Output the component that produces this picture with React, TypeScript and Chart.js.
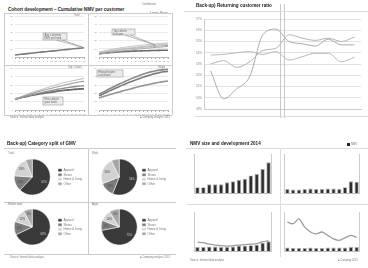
import React, { useEffect, useRef } from "react";
import { Chart, registerables } from "chart.js";

Chart.register(...registerables);

const FONT = "'Liberation Sans', 'DejaVu Sans', Arial, sans-serif";
Chart.defaults.font.family = FONT;
Chart.defaults.color = "#888";

// ---------- Returning customer ratio ----------
const ratioMonths = ["Jan 15", "Feb 15", "Mar 15", "Apr 15", "May 15", "Jun 15", "Jul 15", "Aug 15", "Sep 15", "Oct 15", "Nov 15", "Dec 15"];
const ratioSeriesA = [52.4, 49.9, 50.8, 51.9, 55.6, 56.1, 55.0, 54.8, 54.6, 55.2, 54.7, 54.7];
const ratioSeriesB = [53.0, 53.3, 52.7, 53.2, 54.2, 54.4, 55.6, 55.3, 55.1, 55.3, 55.0, 55.4];
const ratioSeriesC = [53.8, 53.85, 54.0, 54.1, 53.85, 54.1, 53.35, 53.65, 53.95, 53.95, 53.2, 53.6];
const ratioMin = 49;
const ratioMax = 57;

// ---------- Cohort development ----------
const cohortMonths = ["1", "2", "3", "4", "5", "6", "7", "8", "9", "10", "11", "12", "13", "14", "15", "16", "17", "18"];
const cohortTotal = [2.5, 3.1, 3.6, 4.2, 4.7, 5.2, 5.8, 6.3, 6.8, 7.3, 7.8, 8.3, 8.9, 9.4, 9.9, 10.4, 10.9, 11.5];
const cohortWebLow = [4.0, 4.6, 5.1, 5.5, 5.9, 6.3, 6.6, 6.9, 7.1, 7.3, 7.5, 7.7, 7.8, 8.0, 8.1, 8.2, 8.3, 8.4];
const cohortWebA = [5.0, 6.0, 7.0, 7.9, 8.7, 9.4, 10.1, 10.8, 11.4, 12.0, 12.6, 13.1, 13.6, 14.1, 14.6, 15.0, 15.4, 15.8];
const cohortWebB = [4.5, 5.4, 6.3, 7.1, 7.8, 8.5, 9.2, 9.8, 10.4, 11.0, 11.5, 12.0, 12.5, 12.9, 13.3, 13.7, 14.0, 14.3];
const cohortWebC = [6.0, 7.2, 8.3, 9.3, 10.2, 11.0, 11.8, 12.5, 13.1, 13.7, 14.3, 14.8, 15.3, 15.8, 16.2, 16.6, 17.0, 17.3];
const cohortWebD = [3.5, 4.2, 4.9, 5.6, 6.3, 7.0, 7.6, 8.2, 8.8, 9.4, 9.9, 10.4, 10.9, 11.4, 11.8, 12.2, 12.6, 13.0];
const cohortTopA = [13.0, 15.0, 17.0, 19.0, 21.0, 22.5, 24.0, 25.5, 27.0, 28.5, 30.0, 31.5, 33.0, 34.0, 35.0, 36.0, 37.0, 38.0];
const cohortTopB = [13.5, 15.0, 16.5, 18.0, 19.5, 21.0, 22.5, 23.8, 25.0, 26.2, 27.4, 28.6, 29.8, 31.0, 32.0, 33.0, 34.0, 34.5];
const cohortTopC = [12.5, 14.0, 15.5, 16.8, 18.0, 19.2, 20.4, 21.5, 22.5, 23.5, 24.5, 25.4, 26.2, 27.0, 27.7, 28.3, 28.8, 29.2];
const cohortTopD = [13.0, 14.2, 15.4, 16.5, 17.5, 18.4, 19.3, 20.1, 20.9, 21.6, 22.3, 23.0, 23.6, 24.1, 24.6, 25.0, 25.3, 25.6];
const cohortSingleA = [19.0, 21.5, 24.0, 26.5, 29.0, 31.3, 33.5, 35.7, 37.8, 39.8, 41.7, 43.5, 45.0, 46.2, 47.2, 48.0, 48.6, 49.0];
const cohortSingleB = [17.0, 19.3, 21.6, 23.9, 26.1, 28.3, 30.4, 32.4, 34.3, 36.2, 38.0, 39.7, 41.3, 42.8, 44.1, 45.2, 46.0, 46.5];
const cohortSingleC = [14.5, 16.0, 17.5, 19.0, 20.4, 21.8, 23.1, 24.4, 25.7, 27.0, 28.2, 29.4, 30.5, 31.6, 32.6, 33.5, 34.3, 35.0];

// ---------- Category split ----------
const pieCategories = ["Apparel", "Shoes", "Home & living", "Other"];
const pieTotal = [62, 14, 18, 6];
const pieWeb = [56, 13, 24, 7];
const pieMobile = [68, 12, 12, 8];
const pieApp = [72, 9, 10, 9];

// ---------- NMV size ----------
const nmvMonths = ["Dec", "Jan", "Feb", "Mar", "Apr", "May", "Jun", "Jul", "Aug", "Sep", "Oct", "Nov", "Dec"];
const nmvTotal = [12, 12, 18, 18, 18, 22, 24, 27, 29, 36, 39, 49, 63];
const nmvWeb = [8, 7, 7, 8, 9, 8, 8, 9, 9, 8, 12, 24, 23];
const nmvMobile = [8, 8, 9, 9, 8, 8, 9, 11, 11, 12, 13, 17, 20];
const nmvMobileTrend = [18, 17, 14, 12, 11, 10, 11, 12, 13, 14, 15, 19, 21];
const nmvApp = [7, 6, 6, 6, 7, 6, 6, 7, 7, 7, 7, 8, 8];
const nmvAppTrend = [59, 56, 66, 49, 39, 35, 39, 32, 25, 22, 27, 32, 28];

// ---------- plugins ----------
const calloutPlugin = {
  id: "callout",
  afterDatasetsDraw(chart: any, _a: any, opts: any) {
    if (!opts || !opts.box) return;
    const ctx = chart.ctx;
    const [x, y, w, h] = opts.box;
    ctx.save();
    if (opts.target) {
      const el = chart.getDatasetMeta(opts.target[0]).data[opts.target[1]];
      if (el) {
        ctx.strokeStyle = "#888";
        ctx.lineWidth = 0.6;
        ctx.beginPath();
        ctx.moveTo(x + w * 0.55, y + h);
        ctx.lineTo(el.x, el.y);
        ctx.lineTo(x + w * 0.8, y + h);
        ctx.stroke();
      }
    }
    ctx.fillStyle = "#ebebeb";
    ctx.fillRect(x, y, w, h);
    ctx.strokeStyle = "#999";
    ctx.lineWidth = 0.6;
    ctx.strokeRect(x, y, w, h);
    ctx.fillStyle = "#666";
    ctx.font = `2.6px ${FONT}`;
    ctx.textBaseline = "top";
    (opts.lines || []).forEach((t: string, i: number) => ctx.fillText(t, x + 1.5, y + 1 + i * 3));
    ctx.restore();
  },
};

const pieLabelPlugin = {
  id: "pieLabels",
  afterDatasetsDraw(chart: any) {
    const ctx = chart.ctx;
    const data = chart.data.datasets[0].data as number[];
    const total = data.reduce((a, b) => a + b, 0);
    ctx.save();
    ctx.font = `2.8px ${FONT}`;
    ctx.textAlign = "center";
    ctx.textBaseline = "middle";
    chart.getDatasetMeta(0).data.forEach((arc: any, i: number) => {
      const pct = Math.round((data[i] / total) * 100);
      if (pct < 8) return;
      const p = arc.getProps(["x", "y", "startAngle", "endAngle", "outerRadius"], true);
      const mid = (p.startAngle + p.endAngle) / 2;
      const r = p.outerRadius * 0.72;
      ctx.fillStyle = i === 0 ? "#ccc" : "#444";
      ctx.fillText(pct + "%", p.x + Math.cos(mid) * r, p.y + Math.sin(mid) * r);
    });
    ctx.restore();
  },
};

const splitPlugin = {
  id: "split",
  afterDraw(chart: any, _a: any, opts: any) {
    if (opts == null || opts.at == null) return;
    const ctx = chart.ctx;
    const px = chart.scales.x.getPixelForValue(opts.at);
    ctx.save();
    ctx.strokeStyle = "#bbb";
    ctx.lineWidth = 0.8;
    [-2, 2].forEach((d) => {
      ctx.beginPath();
      ctx.moveTo(px + d, 4);
      ctx.lineTo(px + d, chart.height - 4);
      ctx.stroke();
    });
    ctx.restore();
  },
};

// ---------- generic canvas ----------
function ChartBox({ left, top, width, height, make }: any) {
  const ref = useRef<HTMLCanvasElement>(null);
  useEffect(() => {
    const chart = new Chart(ref.current as HTMLCanvasElement, make());
    return () => chart.destroy();
  }, []);
  return (
    <div style={{ position: "absolute", left, top, width, height }}>
      <canvas ref={ref} width={width} height={height} style={{ width, height, display: "block" }} />
    </div>
  );
}

function Txt({ x, y, size = 3, bold = false, color = "#777", children }: any) {
  return (
    <div style={{ position: "absolute", left: x, top: y, fontSize: size, fontWeight: bold ? 700 : 400, color, fontFamily: FONT, whiteSpace: "nowrap", lineHeight: 1 }}>
      {children}
    </div>
  );
}

function HLine({ x1, x2, y, color = "#d4d4d4" }: any) {
  return <div style={{ position: "absolute", left: x1, top: y, width: x2 - x1, height: 1, background: color }} />;
}
function VLine({ x, y1, y2, color = "#d4d4d4" }: any) {
  return <div style={{ position: "absolute", left: x, top: y1, width: 1, height: y2 - y1, background: color }} />;
}

// ---------- chart factories ----------
function ratioConfig(): any {
  const mk = (data: number[], color: string) => ({ data, borderColor: color, borderWidth: 1, pointRadius: 0, cubicInterpolationMode: "monotone", fill: false });
  return {
    type: "line",
    data: {
      labels: ratioMonths,
      datasets: [mk(ratioSeriesA, "#a9a9a9"), mk(ratioSeriesB, "#b3b3b3"), mk(ratioSeriesC, "#b9b9b9")],
    },
    plugins: [splitPlugin],
    options: {
      responsive: false,
      animation: false,
      layout: { padding: { left: 12, right: 7, top: 19, bottom: 4 } },
      plugins: { legend: { display: false }, tooltip: { enabled: false }, split: { at: 5.5 } },
      scales: {
        x: {
          offset: true,
          grid: { display: false },
          border: { color: "#ccc" },
          ticks: { font: { size: 3 }, maxRotation: 0, autoSkip: false, padding: 2, color: "#888" },
          afterFit: (s: any) => { s.height = 9; },
        },
        y: {
          min: ratioMin,
          max: ratioMax,
          ticks: { stepSize: 1, font: { size: 3 }, padding: 2, color: "#888", callback: (v: any) => v + "%" },
          grid: { color: "#d9d9d9", lineWidth: 0.8, drawTicks: false },
          border: { color: "#ccc" },
          afterFit: (s: any) => { s.width = 8; },
        },
      },
    },
  };
}

function cohortConfig(series: { data: number[]; color: string; width: number }[], padTop: number, xHeight: number, callout: any): any {
  return {
    type: "line",
    data: {
      labels: cohortMonths,
      datasets: series.map((s) => ({ data: s.data, borderColor: s.color, borderWidth: s.width, pointRadius: 0, tension: 0.2, fill: false })),
    },
    plugins: [calloutPlugin],
    options: {
      responsive: false,
      animation: false,
      layout: { padding: { left: 0, right: 4, top: padTop, bottom: 0 } },
      plugins: { legend: { display: false }, tooltip: { enabled: false }, callout },
      scales: {
        x: {
          offset: false,
          grid: { drawOnChartArea: false, tickLength: 2, color: "#aaa" },
          border: { color: "#bbb" },
          ticks: { font: { size: 2.5 }, maxRotation: 0, autoSkip: false, padding: 1, color: "#999" },
          afterFit: (s: any) => { s.height = xHeight; },
        },
        y: {
          min: 0,
          max: 50,
          ticks: { stepSize: 5, font: { size: 2.5 }, padding: 2, color: "#999" },
          grid: { color: "#dcdcdc", lineWidth: 0.6, drawTicks: false },
          border: { display: false },
          afterFit: (s: any) => { s.width = 11; },
        },
      },
    },
  };
}

function pieConfig(values: number[]): any {
  return {
    type: "pie",
    data: {
      labels: pieCategories,
      datasets: [{ data: values, backgroundColor: ["#3a3a3a", "#7c7c7c", "#d2d2d2", "#a6a6a6"], borderColor: "#fff", borderWidth: 0.5, radius: 18 }],
    },
    plugins: [pieLabelPlugin],
    options: {
      responsive: false,
      animation: false,
      plugins: {
        tooltip: { enabled: false },
        legend: {
          position: "right",
          labels: { boxWidth: 4, boxHeight: 3, font: { size: 3 }, padding: 1.5, color: "#777" },
        },
      },
    },
  };
}

function nmvConfig(bars: number[], trend: number[] | null): any {
  const datasets: any[] = [];
  if (trend) {
    datasets.push({ type: "line", data: trend, borderColor: "#9d9d9d", borderWidth: 1.3, pointRadius: 0, tension: 0.3, yAxisID: "y" });
  }
  datasets.push({ type: "bar", data: bars, backgroundColor: "#2d2d2d", borderColor: "#a8a8a8", borderWidth: 0.9, barPercentage: 0.74, categoryPercentage: 1, yAxisID: "y" });
  return {
    type: "bar",
    data: { labels: nmvMonths, datasets },
    options: {
      responsive: false,
      animation: false,
      layout: { padding: { top: 4 } },
      plugins: { legend: { display: false }, tooltip: { enabled: false } },
      scales: {
        x: {
          grid: { display: false },
          border: { color: "#bbb" },
          ticks: { font: { size: 2.3 }, maxRotation: 0, autoSkip: false, padding: 1, color: "#999" },
          afterFit: (s: any) => { s.height = 7; },
        },
        y: {
          min: 0,
          max: 80,
          ticks: { stepSize: 10, font: { size: 2.3 }, padding: 1.5, color: "#999" },
          grid: { display: false },
          border: { color: "#ccc" },
          afterFit: (s: any) => { s.width = 8.5; },
        },
        y1: {
          position: "right",
          min: 0,
          max: 80,
          ticks: { stepSize: 10, font: { size: 2.3 }, padding: 1.5, color: "#999", callback: (v: any) => v / 2 + "%" },
          grid: { display: false },
          border: { color: "#ccc" },
          afterFit: (s: any) => { s.width = 8.5; },
        },
      },
    },
  };
}

export default function App() {
  return (
    <div style={{ position: "fixed", left: 0, top: 0, width: 368, height: 268, background: "#fff", overflow: "hidden" }}>
      {/* ===== Panel A: cohort ===== */}
      <Txt x={8} y={7.5} size={4.6} bold color="#222">Cohort development – Cumulative NMV per customer</Txt>
      <Txt x={142} y={4} size={2.6}>Confidential</Txt>
      <Txt x={150} y={12} size={3.4} color="#666">Level: Basic</Txt>
      <HLine x1={4} x2={172} y={13} color="#ccc" />
      <HLine x1={4} x2={172} y={65} color="#ccc" />
      <HLine x1={4} x2={172} y={115} color="#ccc" />
      <VLine x={4} y1={13} y2={115} color="#ccc" />
      <VLine x={88} y1={13} y2={115} color="#ccc" />
      <VLine x={172} y1={13} y2={115} color="#ccc" />
      <ChartBox left={4} top={13} width={84} height={52}
        make={() => cohortConfig([{ data: cohortTotal, color: "#7a7a7a", width: 1.6 }], 2, 8,
          { box: [39, 20, 24, 7], target: [0, 17], lines: ["Avg. customer", "NMV per head"] })} />
      <ChartBox left={88} top={13} width={84} height={52}
        make={() => cohortConfig([
          { data: cohortWebA, color: "#b5b5b5", width: 1 },
          { data: cohortWebB, color: "#a5a5a5", width: 1 },
          { data: cohortWebC, color: "#bdbdbd", width: 1 },
          { data: cohortWebD, color: "#a0a0a0", width: 1 },
          { data: cohortWebLow, color: "#6c6c6c", width: 1.6 },
        ], 2, 8, { box: [24, 16, 23, 6], target: [0, 14], lines: ["Top cohorts", "first year"] })} />
      <ChartBox left={4} top={65} width={84} height={52}
        make={() => cohortConfig([
          { data: cohortTopA, color: "#b0b0b0", width: 0.9 },
          { data: cohortTopB, color: "#a0a0a0", width: 1.2 },
          { data: cohortTopC, color: "#909090", width: 1.4 },
          { data: cohortTopD, color: "#6a6a6a", width: 1.8 },
        ], 1, 7, { box: [39, 32, 20, 8], lines: ["New cohorts", "grow faster"] })} />
      <ChartBox left={88} top={65} width={84} height={52}
        make={() => cohortConfig([
          { data: cohortSingleA, color: "#8a8a8a", width: 1.6 },
          { data: cohortSingleB, color: "#7a7a7a", width: 1.6 },
          { data: cohortSingleC, color: "#949494", width: 1.6 },
        ], 1, 7, { box: [9, 5, 26, 7], lines: ["Repeat buyers", "accelerate"] })} />
      <Txt x={74} y={15} size={2.6}>Total</Txt>
      <Txt x={68} y={66.5} size={2.6}>Top: Cohort</Txt>
      <Txt x={158} y={66.5} size={2.6}>Single</Txt>
      <Txt x={10} y={117} size={2.6}>Source: Internal data analysis</Txt>
      <Txt x={140} y={117} size={2.6}>■ Company analysis 2015</Txt>

      {/* ===== Panel B: returning customer ratio ===== */}
      <ChartBox left={184} top={0} width={184} height={122} make={ratioConfig} />
      <Txt x={196} y={3.7} size={4.6} bold color="#222">Back-up) Returning customer ratio</Txt>
      <HLine x1={184} x2={368} y={11} color="#ddd" />
      <HLine x1={194} x2={368} y={116} color="#ddd" />

      {/* ===== Panel C: category split ===== */}
      <Txt x={7} y={141.5} size={4.6} bold color="#222">Back-up) Category split of GMV</Txt>
      <HLine x1={4} x2={176} y={148} color="#ccc" />
      <HLine x1={4} x2={176} y={202} color="#ccc" />
      <HLine x1={4} x2={176} y={254} color="#ccc" />
      <VLine x={88} y1={148} y2={254} color="#ccc" />
      <Txt x={8} y={152} size={2.8}>Total</Txt>
      <Txt x={92} y={152} size={2.8}>Web</Txt>
      <Txt x={8} y={203} size={2.8}>Mobile web</Txt>
      <Txt x={92} y={203} size={2.8}>Apps</Txt>
      <ChartBox left={8} top={157} width={84} height={40} make={() => pieConfig(pieTotal)} />
      <ChartBox left={98} top={157} width={78} height={40} make={() => pieConfig(pieWeb)} />
      <ChartBox left={8} top={207} width={84} height={40} make={() => pieConfig(pieMobile)} />
      <ChartBox left={98} top={207} width={78} height={40} make={() => pieConfig(pieApp)} />
      <Txt x={10} y={257} size={2.6}>Source: Internal data analysis</Txt>
      <Txt x={140} y={257} size={2.6}>■ Company analysis 2015</Txt>

      {/* ===== Panel D: NMV size ===== */}
      <Txt x={190} y={141.5} size={4.6} bold color="#222">NMV size and development 2014</Txt>
      <div style={{ position: "absolute", left: 347, top: 142.5, width: 3, height: 3, background: "#222" }} />
      <Txt x={351} y={142.5} size={2.8}>NMV</Txt>
      <HLine x1={186} x2={368} y={148} color="#ddd" />
      <VLine x={280} y1={148} y2={257} color="#ddd" />
      <HLine x1={186} x2={368} y={204} color="#ddd" />
      <ChartBox left={186} top={150} width={94} height={50} make={() => nmvConfig(nmvTotal, null)} />
      <ChartBox left={276} top={150} width={92} height={50} make={() => nmvConfig(nmvWeb, null)} />
      <ChartBox left={186} top={208} width={94} height={50} make={() => nmvConfig(nmvMobile, nmvMobileTrend)} />
      <ChartBox left={276} top={208} width={92} height={50} make={() => nmvConfig(nmvApp, nmvAppTrend)} />
      <Txt x={190} y={260} size={2.6}>Source: Internal data analysis</Txt>
      <Txt x={338} y={260} size={2.6}>■ Company 2015</Txt>
    </div>
  );
}
